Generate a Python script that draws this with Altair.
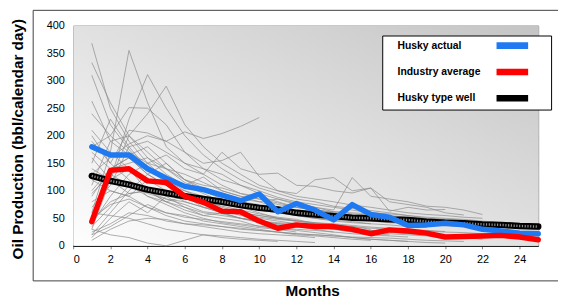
import altair as alt
import pandas as pd

months = list(range(1, 26))
series_names = ["Husky actual", "Industry average", "Husky type well"]
series_colors = ["#1f7af2", "#ff0000", "#000000"]

husky_actual = [180, 165, 165, 140, 123, 108, 102, 92, 82, 94, 62, 77, 65, 47, 75, 57, 52, 37, 38, 41, 38, 30, 27, 23, 22]
industry_avg = [44, 137, 140, 118, 115, 90, 79, 63, 62, 45, 32, 38, 35, 35, 30, 22, 29, 27, 23, 16, 17, 18, 19, 16, 11]
type_well = [127, 118, 111, 102, 96, 90, 85, 80, 74, 69, 66, 60, 57, 54, 51, 50, 48, 47, 44, 42, 41, 39, 38, 36, 35]

wells = [
    [368, 250, 190, 150, 120, 100, 85, 70, 60, 55, 50, 45],
    [333, 260, 200, 160, 130, 110, 95, 80, 70, 60, 50, 45, 42, 38, 35, 30],
    [310, 220, 175, 140, 115, 95, 80, 72, 65, 58, 52, 48, 40, 38],
    [263, 190, 165, 180, 150, 120, 105, 95, 85, 80, 70, 62, 58, 52, 48, 45, 42, 40],
    [240, 200, 251, 250, 220, 170, 140, 120, 110, 95, 85, 75, 70, 62, 58, 55, 50, 48, 45, 42, 40],
    [60, 170, 355, 260, 180, 150, 130, 110, 95, 85, 78, 70, 65, 60, 55, 50],
    [30, 120, 230, 311, 250, 200, 165, 140, 120, 105, 95, 85, 80, 72, 68, 64, 60, 55, 52, 50, 48, 45, 42, 40, 38],
    [110, 190, 200, 240, 290, 220, 180, 150, 130, 110, 100, 90, 85, 80, 74, 70, 65, 60, 57, 55, 52, 50],
    [130, 160, 185, 200, 190, 207, 195, 204, 217, 233],
    [200, 150, 210, 205, 190, 170, 150, 155, 170, 126, 100, 95, 120, 124, 100, 105, 63, 70, 65, 66],
    [180, 200, 170, 150, 165, 140, 130, 170, 140, 130, 132, 110, 108, 100, 96, 105, 80, 75, 70, 60, 56],
    [150, 230, 180, 140, 120, 110, 125, 100, 90, 80, 85, 78, 70, 65, 124, 90, 85, 80, 72, 70, 65, 57],
    [90, 140, 160, 130, 150, 120, 110, 105, 95, 90, 80, 70, 65, 60, 55, 50, 48, 45, 42],
    [70, 110, 180, 190, 170, 150, 140, 130, 110, 100, 88, 80, 75, 70, 65, 60, 58, 55, 50, 48, 45, 42, 40, 36, 33],
    [40, 90, 130, 150, 140, 120, 100, 90, 80, 72, 65, 60, 55, 50, 48],
    [20, 60, 100, 130, 110, 95, 85, 75, 70, 65, 60, 55, 50, 45, 42, 40, 38, 35],
    [15, 50, 80, 60, 90, 70, 60, 55, 50, 45, 40, 38, 35, 30, 28, 25, 22, 20, 18, 15],
    [25, 40, 60, 55, 45, 40, 38, 35, 30, 28, 25, 22, 20, 18, 16, 15, 14, 12, 10, 9, 8],
    [10, 30, 45, 50, 48, 40, 35, 30, 25, 22, 20, 18, 15],
    [50, 75, 85, 70, 60, 52, 48, 44, 40, 36, 32, 30, 28, 25, 22, 20, 18, 16],
    [120, 100, 90, 120, 100, 80, 70, 65, 55, 50, 45, 40, 35, 33, 30, 28, 25, 22, 20, 18, 15, 12],
    [160, 120, 140, 100, 80, 90, 70, 60, 50, 42, 38, 35, 30, 25],
    [190, 150, 120, 90, 80, 70, 55, 50, 45, 35, 32, 28, 24, 20, 15, 12, 10, 8],
    [95, 130, 110, 95, 85, 75, 62, 58, 50, 45, 40, 38, 35, 30, 25, 22, 20],
    [80, 100, 90, 70, 55, 45, 40, 35, 32, 28, 25, 20, 18, 15, 12, 10],
    [35, 70, 110, 90, 75, 60, 50, 42, 38, 33, 30, 25],
    [60, 55, 50, 40, 30, 25, 20, 18, 15, 12, 10, 8, 6],
    [45, 80, 95, 100, 85, 80, 70, 60, 58, 52, 48, 45, 40, 38, 35, 32, 30, 28, 27, 25, 24, 22, 20],
    [100, 140, 150, 160, 140, 130, 115, 100, 90, 85, 75, 70, 65, 62, 60, 58, 55, 52, 50, 48, 46, 44, 42, 40],
    [210, 170, 140, 120, 110, 100, 90, 85, 80, 75, 70, 65, 62, 55, 52, 50, 47, 45, 43, 40, 38, 36, 34, 32, 30],
    [140, 120, 95, 100, 80, 65, 55, 60, 50, 45, 42, 40, 36, 33, 30, 28, 25, 23, 20, 19, 18, 17, 16, 15, 14],
    [20, 35, 55, 75, 60, 55, 45, 40, 35, 30, 25, 22, 20, 18, 15, 12, 10, 8, 6, 5],
    [170, 140, 160, 130, 110, 90, 75, 65, 60, 55, 50, 46, 42, 40, 37, 34, 32, 30, 28, 26],
    [50, 120, 200, 170, 140, 115, 100, 85, 75, 65, 60, 55, 50, 47, 44, 40],
    [30, 20, 15, 5, 0, 10, 20, 15, 12, 10, 8],
]

x_ticks = list(range(0, 25, 2))
y_ticks = list(range(0, 401, 50))
x_domain = [0, 25]
y_domain = [0, 400]

well_rows = []
for i, w in enumerate(wells):
    for m, v in zip(months, w):
        well_rows.append({"well": i, "month": m, "value": v})
wells_df = pd.DataFrame(well_rows)

main_rows = []
for name, vals in zip(series_names, [husky_actual, industry_avg, type_well]):
    for m, v in zip(months, vals):
        main_rows.append({"series": name, "month": m, "value": v})
main_df = pd.DataFrame(main_rows)

bg_df = pd.DataFrame([{"month": x_domain[0], "month2": x_domain[1],
                       "value": y_domain[0], "value2": y_domain[1]}])

W, H = 471, 223
FONT = "Liberation Sans"

x_scale = alt.Scale(domain=x_domain, nice=False, zero=False)
y_scale = alt.Scale(domain=y_domain, nice=False)

x_axis = alt.Axis(values=x_ticks, grid=False, tickColor="#808080", tickSize=3,
                  domainColor="#000000", labelPadding=5, labelFont=FONT,
                  labelFontSize=11, labelColor="#000000",
                  titleFont=FONT, titleFontSize=15.5, titleFontWeight="bold",
                  titleColor="#000000", titleX=242, titleY=45,
                  titleBaseline="middle", titleAlign="center")
y_axis = alt.Axis(values=y_ticks, grid=True, gridColor="#a8a8a8", ticks=False,
                  domainColor="#000000", labelPadding=9, labelFont=FONT,
                  labelFontSize=11, labelColor="#000000",
                  titleFont=FONT, titleFontSize=15.5, titleFontWeight="bold",
                  titleColor="#000000", titleX=-56, titleY=114.5,
                  titleBaseline="middle", titleAlign="center")

X = alt.X("month:Q", scale=x_scale, axis=x_axis, title="Months")
Y = alt.Y("value:Q", scale=y_scale, axis=y_axis, title="Oil Production (bbl/calendar day)")

swatch_path = ("M211,-5.2H275M211,-2.6H275M211,0H275M211,2.6H275M211,5.2H275"
               "M300,-7M300,7M305.6,0")
legend = alt.Legend(orient="none", legendX=313, legendY=10, title=None,
                    symbolType=swatch_path,
                    symbolSize=1, symbolStrokeWidth=1.4, symbolOffset=0, labelOffset=0,
                    labelFont=FONT, labelFontSize=10.5, labelFontWeight="bold",
                    labelColor="#000000", fillColor="#ffffff",
                    strokeColor="#000000", padding=5, rowPadding=12.7,
                    cornerRadius=0)
color = alt.Color("series:N", scale=alt.Scale(domain=series_names, range=series_colors),
                  legend=legend)

frame = alt.Chart(bg_df).mark_rect(fill="transparent", stroke="#404040", strokeWidth=1).encode(
    x=alt.value(-40.5), x2=alt.value(W + 60), y=alt.value(-15.5), y2=alt.value(258.5)
)

bg = alt.Chart(bg_df).mark_rect(
    fill=alt.Gradient(gradient="linear",
                      stops=[alt.GradientStop(color="#fefefe", offset=0),
                             alt.GradientStop(color="#c4c4c4", offset=1)],
                      x1=0, y1=1, x2=1, y2=0)
).encode(x=X, x2="month2:Q", y=Y, y2="value2:Q")

gray = alt.Chart(wells_df).mark_line(color="#8a8a8a", strokeWidth=0.7).encode(
    x=X, y=Y, detail="well:N"
)

def series_layer(name, width):
    return alt.Chart(main_df).transform_filter(alt.datum.series == name).mark_line(
        strokeWidth=width, strokeCap="round", strokeJoin="round"
    ).encode(x=X, y=Y, color=color)

black = series_layer("Husky type well", 6.5)
texture = alt.Chart(main_df).transform_filter(alt.datum.series == "Husky type well").mark_line(
    color="#8c8c8c", strokeWidth=2.5, strokeDash=[1.2, 1.6]
).encode(x=X, y=Y)
blue = series_layer("Husky actual", 5.5)
red = series_layer("Industry average", 5.5)

chart = alt.layer(frame, bg, gray, black, texture, blue, red).properties(
    width=W, height=H,
    autosize=alt.AutoSizeParams(type="none"),
    padding={"left": 66, "top": 16, "right": 20, "bottom": 53},
).configure_view(stroke="#a0a0a0", strokeWidth=1)

chart.save("out.html", embed_options={"renderer": "svg", "actions": False})
